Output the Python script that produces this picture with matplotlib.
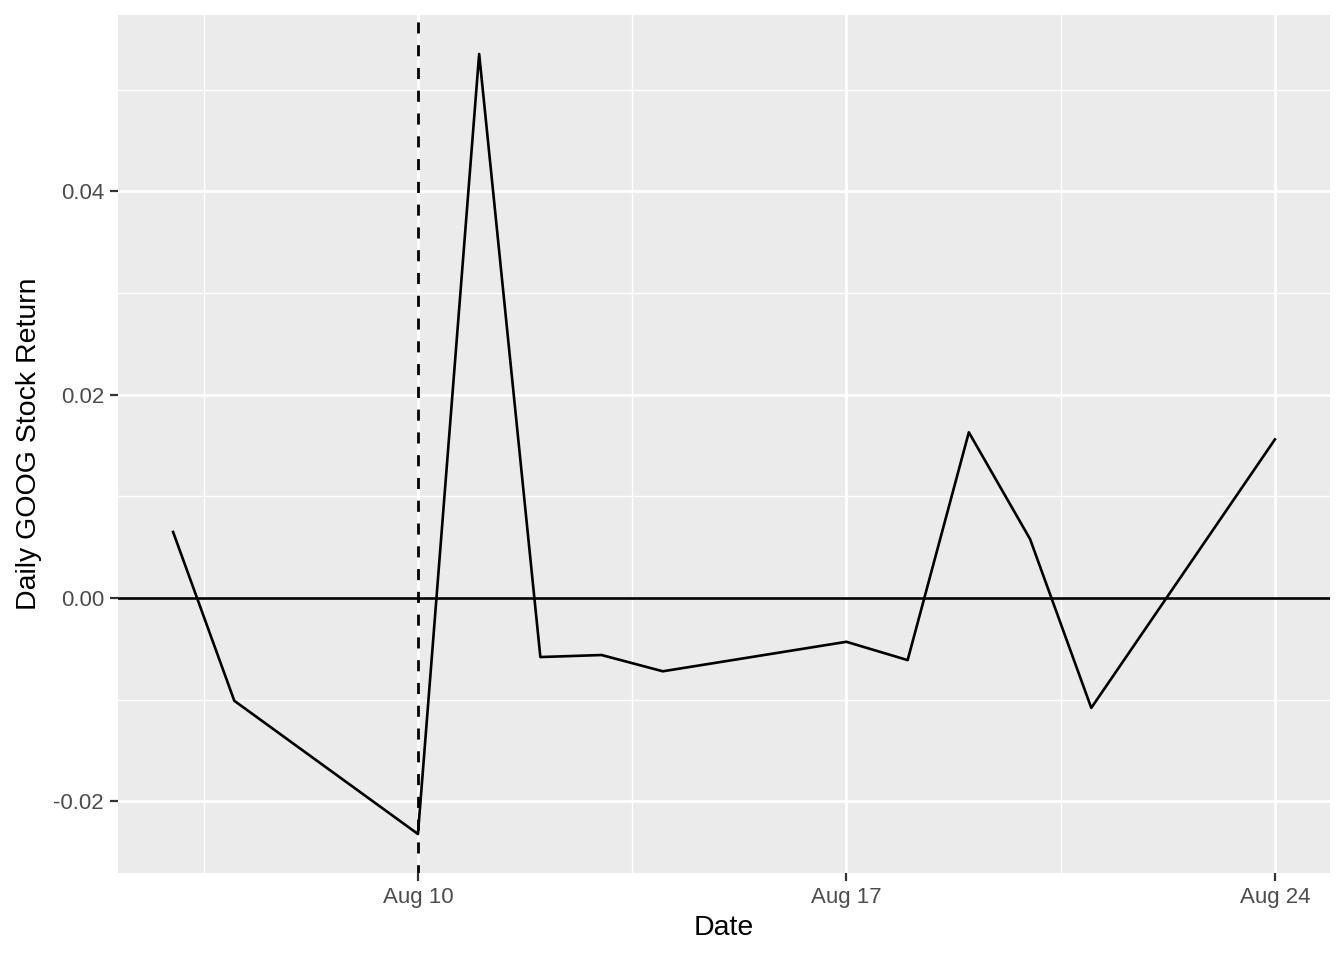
import matplotlib
matplotlib.use("Agg")
import matplotlib.pyplot as plt
import matplotlib.dates as mdates
import numpy as np
import pandas as pd

dates = ["2015-08-06", "2015-08-07", "2015-08-10", "2015-08-11", "2015-08-12",
         "2015-08-13", "2015-08-14", "2015-08-17", "2015-08-18", "2015-08-19",
         "2015-08-20", "2015-08-21", "2015-08-24"]
returns = [0.0065, -0.0101, -0.0232, 0.0535, -0.0058, -0.0056, -0.0072,
           -0.0043, -0.0061, 0.0163, 0.0058, -0.0108, 0.0156]
event_date = "2015-08-10"
x_breaks = ["2015-08-10", "2015-08-17", "2015-08-24"]
x_labels = ["Aug 10", "Aug 17", "Aug 24"]
x_minor = ["2015-08-06 12:00", "2015-08-13 12:00", "2015-08-20 12:00"]
y_breaks = [-0.02, 0.00, 0.02, 0.04]
y_labels = ["-0.02", "0.00", "0.02", "0.04"]
y_minor = [-0.01, 0.01, 0.03, 0.05]

plt.rcParams['font.family'] = ['Liberation Sans', 'DejaVu Sans']

d = pd.to_datetime(dates)
fig = plt.figure(figsize=(13.44, 9.6), dpi=100)
ax = fig.add_axes([118/1344, 1-873/960, (1330-118)/1344, (873-15)/960])
ax.set_facecolor("#EBEBEB")

for v in pd.to_datetime(x_minor):
    ax.axvline(v, color="white", lw=1.0, zorder=0)
for v in y_minor:
    ax.axhline(v, color="white", lw=1.0, zorder=0)
for v in pd.to_datetime(x_breaks):
    ax.axvline(v, color="white", lw=2.0, zorder=0)
for v in y_breaks:
    ax.axhline(v, color="white", lw=2.0, zorder=0)

ax.plot(d, returns, color="black", lw=1.9, zorder=3)
ax.axhline(0, color="black", lw=1.9, zorder=3)
ax.axvline(pd.Timestamp(event_date), color="black", lw=2.0, ls=(1, (4, 4.2)), zorder=3)

xmin = d.min() - pd.Timedelta(days=0.9)
xmax = d.max() + pd.Timedelta(days=0.9)
ax.set_xlim(xmin, xmax)
rng = max(returns) - min(returns)
ax.set_ylim(min(returns) - 0.05*rng, max(returns) + 0.05*rng)

ax.set_xticks(pd.to_datetime(x_breaks))
ax.set_xticklabels(x_labels)
ax.set_yticks(y_breaks)
ax.set_yticklabels(y_labels)
ax.tick_params(axis="both", colors="#333333", length=6, width=1.6, labelsize=16,
               labelcolor="#4D4D4D", pad=4)
for s in ax.spines.values():
    s.set_visible(False)

ax.set_xlabel("Date", fontsize=20.5, color="black", labelpad=5)
ax.set_ylabel("Daily GOOG Stock Return", fontsize=20.5, color="black", labelpad=8)

fig.savefig("out.png", dpi=100, facecolor="white")
